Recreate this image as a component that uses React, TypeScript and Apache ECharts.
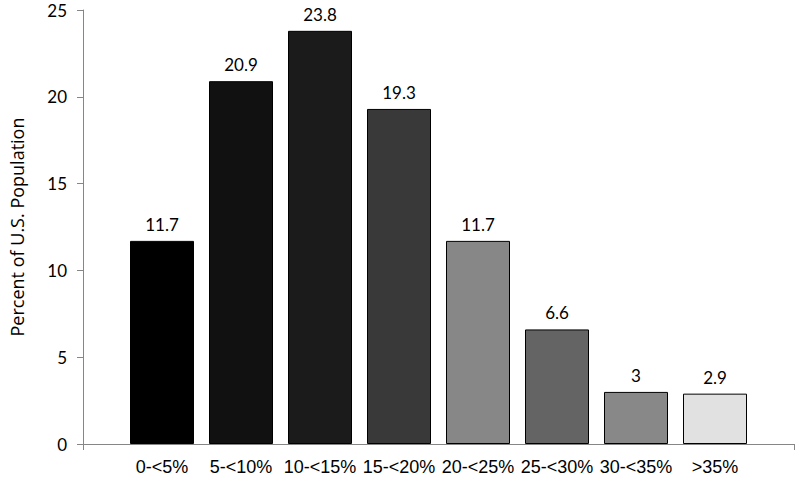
import React, { useEffect, useRef } from "react";
import * as echarts from "echarts";

const categories = ["0-<5%", "5-<10%", "10-<15%", "15-<20%", "20-<25%", "25-<30%", "30-<35%", ">35%"];
const values = [11.7, 20.9, 23.8, 19.3, 11.7, 6.6, 3, 2.9];
const barColors = ["#000000", "#111111", "#1b1b1b", "#393939", "#878787", "#646464", "#888888", "#e1e1e1"];
const yTicks = { min: 0, max: 25, interval: 5 };
const yTitle = "Percent of U.S. Population";

export default function App() {
  const ref = useRef<HTMLDivElement>(null);
  useEffect(() => {
    if (!ref.current) return;
    document.body.style.margin = "0";
    const chart = echarts.init(ref.current, null, { renderer: "svg" });
    const axisCats = ["", ...categories, ""];
    const data = [
      null,
      ...values.map((v, i) => ({
        value: v,
        itemStyle: { color: barColors[i], borderColor: "#000", borderWidth: 1 },
      })),
      null,
    ];
    chart.setOption({
      animation: false,
      backgroundColor: "#ffffff",
      grid: { left: 74, right: 3, top: 10, bottom: 39, containLabel: false },
      xAxis: {
        type: "category",
        data: axisCats,
        boundaryGap: false,
        axisLine: { lineStyle: { color: "#868686", width: 1 } },
        axisTick: {
          show: true,
          length: 6,
          interval: (i: number) => i === 0 || i === axisCats.length - 1,
          lineStyle: { color: "#868686" },
        },
        axisLabel: {
          interval: 0,
          margin: 14,
          color: "#000",
          fontSize: 18,
          fontFamily: "Liberation Sans",
        },
        splitLine: { show: false },
      },
      yAxis: {
        type: "value",
        min: yTicks.min,
        max: yTicks.max,
        interval: yTicks.interval,
        name: yTitle,
        nameLocation: "middle",
        nameGap: 57,
        nameTextStyle: { color: "#000", fontSize: 18, fontFamily: "Open Sans" },
        axisLine: { show: true, lineStyle: { color: "#868686", width: 1 } },
        axisTick: { show: true, length: 6, lineStyle: { color: "#868686" } },
        axisLabel: { color: "#000", fontSize: 17, fontFamily: "Lato", margin: 16 },
        splitLine: { show: false },
      },
      series: [
        {
          type: "bar",
          data,
          barWidth: 64,
          label: {
            show: true,
            position: "top",
            distance: 8,
            color: "#000",
            fontSize: 17,
            fontFamily: "Lato",
          },
        },
      ],
    });
    return () => chart.dispose();
  }, []);
  return (
    <div
      ref={ref}
      style={{ position: "absolute", left: 0, top: 0, width: 797, height: 483, background: "#fff" }}
    />
  );
}
